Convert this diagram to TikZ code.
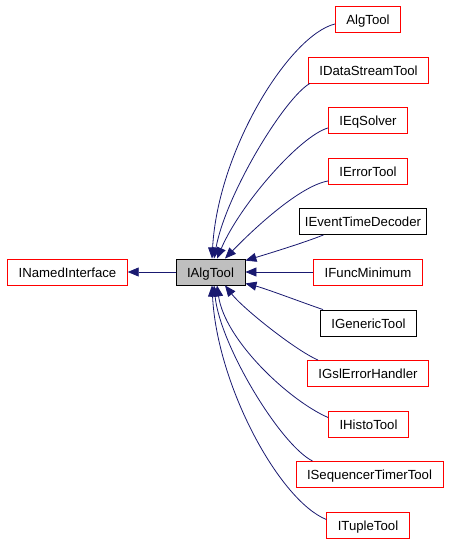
\documentclass[tikz,border=0pt]{standalone}
\usepackage{fontspec}
\setmainfont{Liberation Sans}
\usetikzlibrary{arrows.meta}
\definecolor{edgeblue}{RGB}{25,25,112}
\definecolor{curgray}{RGB}{191,191,191}
\begin{document}
\begin{tikzpicture}[x=1pt, y=-1pt, font=\fontsize{13.2}{15}\selectfont,
  cls/.style={draw=red, line width=0.9pt, inner xsep=11pt, inner ysep=0pt,
    minimum height=26pt, text height=10pt, text depth=0pt},
  clsplain/.style={cls, draw=black},
  clscur/.style={cls, draw=black, fill=curgray},
  inh/.style={draw=edgeblue, line width=0.8pt, -{Triangle[length=11pt,width=9pt]}}]
\useasboundingbox (0,0) rectangle (448,544);
% base classes
\node[cls] (named) at (67.5,272) {INamedInterface};
\node[clscur] (ialg) at (210.5,272) {IAlgTool};
% derived classes
\node[cls] (algtool) at (368,19) {AlgTool};
\node[cls] (idata) at (368.5,70) {IDataStreamTool};
\node[cls] (ieq) at (368,120) {IEqSolver};
\node[cls] (ierr) at (368,171) {IErrorTool};
\node[clsplain, inner xsep=5pt] (ievt) at (363,221.5) {IEventTimeDecoder};
\node[cls] (ifunc) at (368,272) {IFuncMinimum};
\node[clsplain] (igen) at (368.5,323) {IGenericTool};
\node[cls] (igsl) at (368,373.5) {IGslErrorHandler};
\node[cls] (ihis) at (368.5,424.5) {IHistoTool};
\node[cls] (iseq) at (369.5,474.5) {ISequencerTimerTool};
\node[cls] (itup) at (368,525.5) {ITupleTool};
% inheritance
\draw[inh] (ialg) -- (named);
\draw[inh] ([yshift=-5pt]algtool.west) .. controls +(-45,11) and +(6,-109) .. ([xshift=1.5pt]ialg.north);
\draw[inh] ([xshift=2pt]idata.south west) .. controls +(-25,14) and +(12,-65) .. ([xshift=3.5pt]ialg.north);
\draw[inh] ([yshift=-8pt]ieq.west) .. controls +(-28,8) and +(23,-54) .. ([xshift=6.5pt]ialg.north);
\draw[inh] ([yshift=-10pt]ierr.west) .. controls +(-28,5) and +(30,-31) .. ([xshift=14.5pt]ialg.north);
\draw[inh] ([xshift=24pt]ievt.south west) .. controls +(-20,8) and +(20,-6) .. ([yshift=-2pt]ialg.north east);
\draw[inh] (ifunc) -- (ialg);
\draw[inh] ([xshift=3pt]igen.north west) .. controls +(-15,-5) and +(20,5) .. ([yshift=2pt]ialg.south east);
\draw[inh] ([xshift=11pt]igsl.north west) .. controls +(-23,-10) and +(18,23) .. ([xshift=14.5pt]ialg.south);
\draw[inh] ([yshift=7pt]ihis.west) .. controls +(-39,-17) and +(8,55) .. ([xshift=6.5pt]ialg.south);
\draw[inh] ([xshift=17pt]iseq.north west) .. controls +(-32,-16) and +(6,60) .. ([xshift=3.5pt]ialg.south);
\draw[inh] ([yshift=6pt]itup.west) .. controls +(-47,-19) and +(5,100) .. ([xshift=1.5pt]ialg.south);
\end{tikzpicture}
\end{document}
